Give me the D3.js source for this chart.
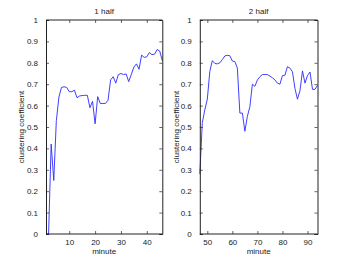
<!DOCTYPE html>
<html>
<head>
<meta charset="utf-8">
<script src="https://cdn.jsdelivr.net/npm/d3@7"></script>
<style>
  body { margin: 0; background: #fff; }
  svg { display: block; font-family: "Liberation Sans", Arial, sans-serif; }
</style>
</head>
<body>
<svg id="chart" width="350" height="264"></svg>
<script>
const width = 350;
const height = 264;

// first half, minute 1..46
const minutes1 = d3.range(1, 47);
const values1 = [0, 0, 0.42, 0.25, 0.53, 0.64, 0.685, 0.688, 0.685, 0.665,
  0.665, 0.672, 0.637, 0.645, 0.647, 0.648, 0.648, 0.59, 0.62, 0.515,
  0.642, 0.61, 0.61, 0.61, 0.625, 0.72, 0.735, 0.705, 0.745, 0.75,
  0.745, 0.748, 0.712, 0.745, 0.78, 0.795, 0.77, 0.836, 0.825, 0.828,
  0.848, 0.838, 0.84, 0.862, 0.855, 0.81];

// second half, minute 47..94
const minutes2 = d3.range(47, 95);
const values2 = [0.28, 0.52, 0.58, 0.63, 0.76, 0.81, 0.797, 0.795, 0.8, 0.815,
  0.832, 0.835, 0.833, 0.808, 0.806, 0.775, 0.565, 0.565, 0.48, 0.55,
  0.595, 0.7, 0.69, 0.72, 0.735, 0.745, 0.745, 0.745, 0.738, 0.73,
  0.72, 0.705, 0.7, 0.74, 0.742, 0.782, 0.775, 0.758, 0.68, 0.63,
  0.67, 0.762, 0.705, 0.74, 0.757, 0.676, 0.676, 0.695];

const yTicks = [0, 0.1, 0.2, 0.3, 0.4, 0.5, 0.6, 0.7, 0.8, 0.9, 1];
const xTicks1 = [10, 20, 30, 40];
const xTicks2 = [50, 60, 70, 80, 90];

const panels = [
  {title: "1 half", mins: minutes1, vals: values1, domain: [1, 46], ticks: xTicks1, x0: 46, x1: 162.3, labelX: 23.5},
  {title: "2 half", mins: minutes2, vals: values2, domain: [47, 94], ticks: xTicks2, x0: 199.8, x1: 317.5, labelX: 178.5}
];

const plotTop = 20, plotBottom = 234;
const svg = d3.select('#chart');
const y = d3.scaleLinear().domain([0, 1]).range([plotBottom, plotTop]);
const fmt = d => d === 0 || d === 1 ? String(d) : d3.format('.1f')(d);

panels.forEach(p => {
  const x = d3.scaleLinear().domain(p.domain).range([p.x0, p.x1]);
  const g = svg.append('g');

  // line
  g.append('path')
    .datum(p.mins.map((m, i) => [m, p.vals[i]]))
    .attr('fill', 'none')
    .attr('stroke', '#2a2aff')
    .attr('stroke-width', 0.9)
    .attr('d', d3.line().x(d => x(d[0])).y(d => y(d[1])));

  // axes, ticks pointing inward like matlab
  const axL = g.append('g').attr('transform', `translate(${p.x0},0)`)
    .call(d3.axisLeft(y).tickValues(yTicks).tickSize(-3).tickPadding(8).tickFormat(fmt));
  const axR = g.append('g').attr('transform', `translate(${p.x1},0)`)
    .call(d3.axisRight(y).tickValues(yTicks).tickSize(-3).tickFormat(''));
  const axB = g.append('g').attr('transform', `translate(0,${plotBottom})`)
    .call(d3.axisBottom(x).tickValues(p.ticks).tickSize(-3).tickPadding(5));
  const axT = g.append('g').attr('transform', `translate(0,${plotTop})`)
    .call(d3.axisTop(x).tickValues(p.ticks).tickSize(-3).tickFormat(''));

  [axL, axR, axB, axT].forEach(a => {
    a.selectAll('path.domain').attr('stroke', '#222').attr('stroke-width', 1);
    a.selectAll('line').attr('stroke', '#222').attr('stroke-width', 0.7);
    a.selectAll('text').attr('font-size', 8).attr('fill', '#222')
      .attr('font-family', '"Liberation Sans", Arial, sans-serif');
  });
  axB.selectAll('path.domain').attr('d', `M${p.x0},0H${p.x1}`);
  axT.selectAll('path.domain').attr('d', `M${p.x0},0H${p.x1}`);

  // title and labels
  g.append('text')
    .attr('x', (p.x0 + p.x1) / 2).attr('y', 14)
    .attr('text-anchor', 'middle').attr('font-size', 8).attr('fill', '#222')
    .text(p.title);
  g.append('text')
    .attr('x', (p.x0 + p.x1) / 2).attr('y', 254)
    .attr('text-anchor', 'middle').attr('font-size', 8).attr('fill', '#222')
    .text('minute');
  g.append('text')
    .attr('transform', `translate(${p.labelX},${(plotTop + plotBottom) / 2}) rotate(-90)`)
    .attr('text-anchor', 'middle').attr('font-size', 8).attr('fill', '#222')
    .text('clustering coefficient');
});
</script>
</body>
</html>
